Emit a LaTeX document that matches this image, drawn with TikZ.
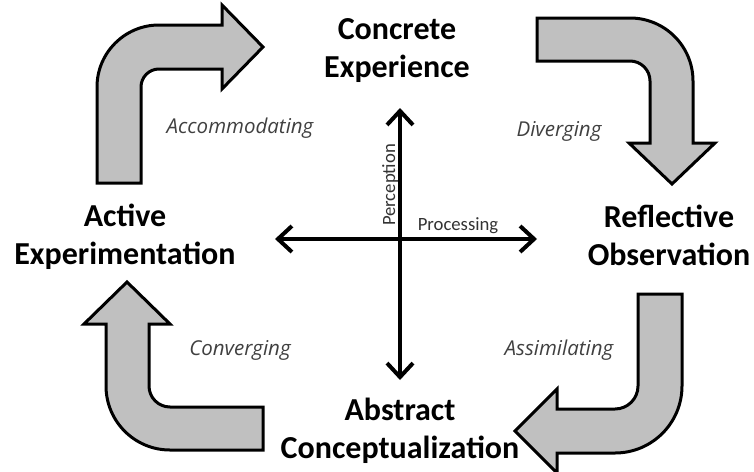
\documentclass[tikz,border=0pt]{standalone}
\usepackage{fontspec}
\setmainfont{Carlito}
\newfontfamily\labelfont{Open Sans}
\usetikzlibrary{arrows.meta}

\definecolor{arrowfill}{RGB}{192,192,192}
\definecolor{labelgray}{RGB}{64,64,64}

\tikzset{
  bentarrow/.style={draw=black, line width=3pt, fill=arrowfill, line join=miter},
  axis/.style={line width=4pt, {Straight Barb[length=14pt,width=26pt,line width=4pt]}-{Straight Barb[length=14pt,width=26pt,line width=4pt]}},
  stage/.style={font=\fontsize{32}{38}\selectfont\bfseries, align=center, anchor=base, inner sep=0pt},
  style/.style={font=\labelfont\fontsize{20.5}{24}\selectfont\itshape, text=labelgray, anchor=base, inner sep=0pt},
  axislabel/.style={font=\fontsize{18.7}{20}\selectfont, text=labelgray!80!black, anchor=base, inner sep=0pt}
}

\begin{document}
\begin{tikzpicture}[x=1pt,y=-1pt]
  \useasboundingbox (0,0) rectangle (754,471);

  % four bent arrows of the cycle
  \draw[bentarrow] (97,183) -- (97,87) arc[start angle=180, end angle=270, radius=62]
    -- (222,25) -- (222,5) -- (263,47) -- (222,89) -- (222,69) -- (159,69)
    arc[start angle=270, end angle=180, radius=18] -- (141,183) -- cycle;

  \draw[bentarrow] (537,18) -- (630,18) arc[start angle=270, end angle=360, radius=63]
    -- (693,143) -- (715,143) -- (672,184) -- (629,143) -- (650,143) -- (650,81)
    arc[start angle=0, end angle=-90, radius=20] -- (537,61) -- cycle;

  \draw[bentarrow] (638,294) -- (682,294) -- (682,386) arc[start angle=0, end angle=90, radius=67]
    -- (557,453) -- (557,473) -- (515,431) -- (557,389) -- (557,409) -- (615,409)
    arc[start angle=90, end angle=0, radius=23] -- cycle;

  \draw[bentarrow] (263,407) -- (170,407) arc[start angle=90, end angle=180, radius=21]
    -- (149,324) -- (170,324) -- (127,282) -- (84,324) -- (106,324) -- (106,386)
    arc[start angle=180, end angle=90, radius=64] -- (263,450) -- cycle;

  % perception / processing axes
  \coordinate (ptop) at (400,108);
  \coordinate (pbot) at (400,380);
  \coordinate (pleft) at (275,239);
  \coordinate (pright) at (537,239);
  \draw[axis] (ptop) -- (pbot);
  \draw[axis] (pleft) -- (pright);

  \node[axislabel, rotate=90] (perception) at (395,185) {Perception};
  \node[axislabel] (processing) at (458,230) {Processing};

  % the four stages (anchored at the baseline of the second line)
  \node[stage] (ce) at (397,77) {Concrete\\Experience};
  \node[stage] (ro) at (669,265) {Reflective\\Observation};
  \node[stage] (ac) at (400,458) {Abstract\\Conceptualization};
  \node[stage] (ae) at (125,264) {Active\\Experimentation};

  % learning styles
  \node[style] (acc) at (240,133) {Accommodating};
  \node[style] (div) at (559,136) {Diverging};
  \node[style] (con) at (240,355) {Converging};
  \node[style] (ass) at (559,355) {Assimilating};
\end{tikzpicture}
\end{document}
